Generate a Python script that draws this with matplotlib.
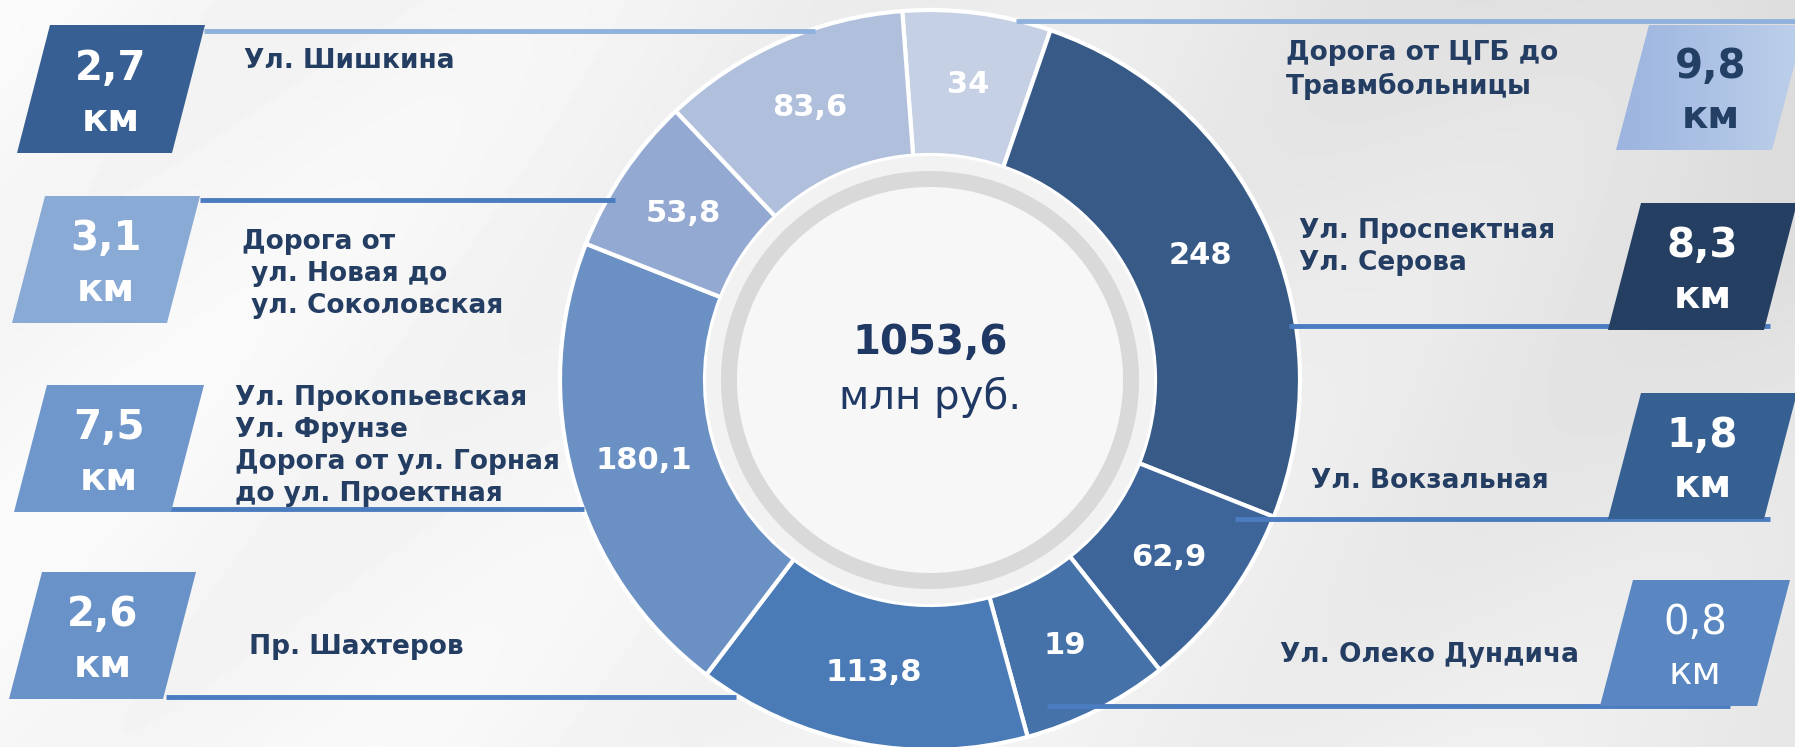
import numpy as np
import matplotlib
matplotlib.use("Agg")
import matplotlib.pyplot as plt
from matplotlib.patches import Polygon, Circle

plt.rcParams["font.family"] = "DejaVu Sans"

# Данные: сектора кольца (по часовой стрелке от верха)
slice_labels = ["34", "248", "62,9", "19", "113,8", "180,1", "53,8", "83,6"]
slice_shares = [23.3, 92.7, 29.9, 23.1, 52.5, 74.4, 25.0, 39.1]   # угол сектора, град (по картинке)
slice_colors = ['#c6d0e4', '#375a87', '#3d6599', '#4672aa', '#4a7bb7', '#6b90c4', '#93a9d1', '#afbfdc']

total_value = "1053,6"
total_unit = "млн руб."

# Дороги и протяжённость
road_names = ["Ул. Шишкина",
              "Дорога от\n ул. Новая до\n ул. Соколовская",
              "Ул. Прокопьевская\nУл. Фрунзе\nДорога от ул. Горная\nдо ул. Проектная",
              " Пр. Шахтеров",
              "Дорога от ЦГБ до\nТравмбольницы",
              "Ул. Проспектная\nУл. Серова",
              "Ул. Вокзальная",
              "Ул. Олеко Дундича"]
road_km = ["2,7", "3,1", "7,5", "2,6", "9,8", "8,3", "1,8", "0,8"]

# оформление плашек: (x низ-лево, y верх, y низ, ширина, цвет, цвет текста, жирный)
boxes = [(17, 25, 153, 155, '#375f93', 'white', 'bold'),
         (12, 196, 323, 155, '#8aaad6', 'white', 'bold'),
         (14, 385, 512, 157, '#6f97cb', 'white', 'bold'),
         (9, 572, 699, 154, '#6993c8', 'white', 'bold'),
         (1616, 25, 150, 156, None, '#243f64', 'bold'),
         (1608, 203, 330, 156, '#253f62', 'white', 'bold'),
         (1608, 393, 519, 156, '#366091', 'white', 'bold'),
         (1600, 580, 706, 157, '#5a87c1', 'white', 'normal')]
# подписи: (x, y центра блока)
texts = [(244, 61), (242, 274), (235, 446), (240, 647),
         (1286, 70), (1299, 247), (1311, 481), (1280, 655)]
# линии: (y, x0, x1, цвет)
leaders = [(31, 204, 815, '#8fb1dc'), (200, 200, 615, '#4b7cc0'),
           (509, 169, 584, '#4b7cc0'), (697, 166, 736, '#4b7cc0'),
           (21, 1016, 1795, '#8fb1dc'), (326, 1289, 1770, '#4b7cc0'),
           (519, 1235, 1770, '#4b7cc0'), (706, 1047, 1730, '#4b7cc0')]

W, H = 1795, 747
fig = plt.figure(figsize=(W / 100, H / 100), dpi=100)
ax = fig.add_axes([0, 0, 1, 1])

# фон
yy, xx = np.mgrid[0:H:4, 0:W:4]
bg = 0.97 - 0.11 * (xx / W) ** 1.5 * (1 - 0.5 * yy / H)
bg = bg + 0.012 * np.cos((xx + yy) / 90.0)
ax.imshow(bg, cmap='gray', vmin=0, vmax=1, extent=(0, W, H, 0), zorder=0, aspect='auto')

cx, cy, R = 930, 380, 370
wedges, _ = ax.pie(slice_shares, colors=slice_colors, startangle=-94.3, counterclock=True,
                   center=(cx, cy), radius=R,
                   wedgeprops=dict(width=145, edgecolor='white', linewidth=3))
for w in wedges:
    w.set_zorder(2)

rmid = R - 145 / 2
for w, lab in zip(wedges, slice_labels):
    th = np.deg2rad((w.theta1 + w.theta2) / 2)
    ax.text(cx + rmid * np.cos(th), cy + rmid * np.sin(th), lab, color='white',
            fontsize=22, fontweight='bold', ha='center', va='center', zorder=4)

ax.add_patch(Circle((cx, cy), 224, facecolor='#f2f2f2', edgecolor='none', zorder=3))
ax.add_patch(Circle((cx, cy), 209, facecolor='#d9d9d9', edgecolor='none', zorder=3))
ax.add_patch(Circle((cx, cy), 193, facecolor='#f7f7f7', edgecolor='none', zorder=3))
ax.text(cx, 343, total_value, fontsize=29, fontweight='bold', color='#1f3864',
        ha='center', va='center', zorder=4)
ax.text(cx, 397, total_unit, fontsize=29, color='#1f3864', ha='center', va='center', zorder=4)

# линии-выноски
for y, x0, x1, c in leaders:
    ax.plot([x0, x1], [y, y], color=c, linewidth=3.5, solid_capstyle='butt', zorder=5)

# плашки с километрами
skew = 33
for (xb, yt, yb, bw, col, tcol, fw), km in zip(boxes, road_km):
    pts = [(xb + skew, yt), (xb + skew + bw, yt), (xb + bw, yb), (xb, yb)]
    if col is None:
        poly = Polygon(pts, closed=True, facecolor='none', edgecolor='none', zorder=6)
        ax.add_patch(poly)
        grad = np.linspace(0, 1, 64)[None, :]
        im = ax.imshow(grad, cmap=matplotlib.colors.LinearSegmentedColormap.from_list(
            'g', ['#9cb4df', '#bdd0ea']), extent=(xb, xb + skew + bw, yb, yt),
            aspect='auto', zorder=6)
        im.set_clip_path(poly)
    else:
        ax.add_patch(Polygon(pts, closed=True, facecolor=col, edgecolor='none', zorder=6))
    xc = xb + (skew + bw) / 2
    h = yb - yt
    ax.text(xc, yt + 0.34 * h, km, color=tcol, fontsize=29, fontweight=fw,
            ha='center', va='center', zorder=7)
    ax.text(xc, yt + 0.74 * h, "км", color=tcol, fontsize=28, fontweight=fw,
            ha='center', va='center', zorder=7)

# названия дорог
for (x, y), name in zip(texts, road_names):
    ax.text(x, y, name, color='#243d62', fontsize=19, fontweight='bold',
            ha='left', va='center', linespacing=1.3, zorder=7)

ax.set_xlim(0, W)
ax.set_ylim(H, 0)
ax.set_aspect('auto')
ax.axis('off')

plt.savefig('out.png', dpi=100)
